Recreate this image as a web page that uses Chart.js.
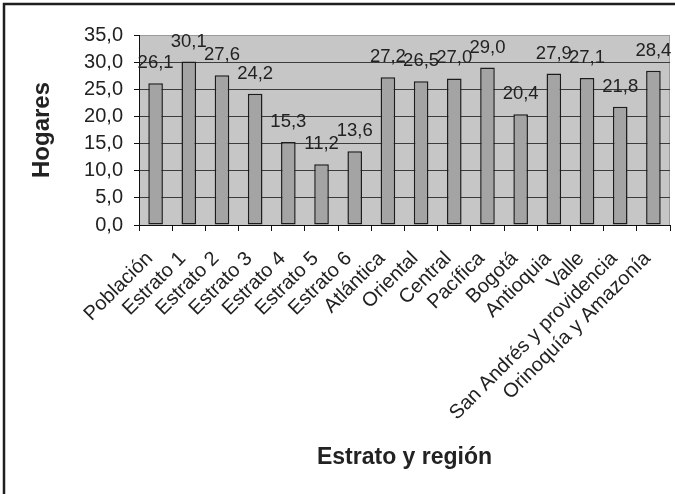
<!DOCTYPE html>
<html>
<head>
<meta charset="utf-8">
<script src="https://cdn.jsdelivr.net/npm/chart.js@4"></script>
<style>
  body { margin: 0; background: #fff; }
  #wrap { width: 675px; height: 494px; }
</style>
</head>
<body>
<div id="wrap"><canvas id="hogaresChart" width="675" height="494"></canvas></div>
<script>
// categorías (estrato y región)
const categorias = ['Población', 'Estrato 1', 'Estrato 2', 'Estrato 3', 'Estrato 4', 'Estrato 5', 'Estrato 6',
  'Atlántica', 'Oriental', 'Central', 'Pacífica', 'Bogotá', 'Antioquia', 'Valle',
  'San Andrés y providencia', 'Orinoquía y Amazonía'];

// porcentaje de hogares
const hogares = [26.1, 30.1, 27.6, 24.2, 15.3, 11.2, 13.6, 27.2, 26.5, 27.0, 29.0, 20.4, 27.9, 27.1, 21.8, 28.4];

// eje y
const yMin = 0;
const yMax = 35;
const yPaso = 5;

const coma = v => v.toFixed(1).replace('.', ',');
const fuente = '"Liberation Sans", Arial, sans-serif';

// fondo gris del área de trazado + marco exterior
const fondo = {
  id: 'fondo',
  beforeDraw(chart) {
    const { ctx, chartArea: a } = chart;
    ctx.save();
    ctx.fillStyle = '#c6c6c6';
    ctx.fillRect(a.left, a.top, a.right - a.left, a.bottom - a.top);
    ctx.strokeStyle = '#9a9a9a';
    ctx.lineWidth = 1;
    ctx.strokeRect(a.left + 0.5, a.top + 0.5, a.right - a.left - 1, a.bottom - a.top);
    ctx.restore();
  },
  afterDraw(chart) {
    const ctx = chart.ctx;
    ctx.save();
    ctx.strokeStyle = '#1e1e1e';
    ctx.lineWidth = 2.5;
    ctx.beginPath();
    ctx.moveTo(4, 494);
    ctx.lineTo(4, 4);
    ctx.lineTo(675, 4);
    ctx.stroke();
    ctx.restore();
  }
};

// etiquetas de valor sobre cada barra
const etiquetas = {
  id: 'etiquetas',
  afterDatasetsDraw(chart) {
    const ctx = chart.ctx;
    const meta = chart.getDatasetMeta(0);
    ctx.save();
    ctx.font = '18.5px ' + fuente;
    ctx.fillStyle = '#222';
    ctx.textAlign = 'center';
    ctx.textBaseline = 'alphabetic';
    meta.data.forEach((bar, i) => {
      ctx.fillText(coma(hogares[i]), bar.x, bar.y - 15);
    });
    ctx.restore();
  }
};

new Chart(document.getElementById('hogaresChart'), {
  type: 'bar',
  data: {
    labels: categorias,
    datasets: [{
      data: hogares,
      backgroundColor: '#a4a4a4',
      borderColor: '#1c1c1c',
      borderWidth: 1.5,
      borderSkipped: false,
      categoryPercentage: 1,
      barPercentage: 0.44
    }]
  },
  options: {
    responsive: false,
    animation: false,
    layout: { padding: { top: 35, right: 5, left: 0, bottom: 0 } },
    plugins: {
      legend: { display: false },
      tooltip: { enabled: false }
    },
    scales: {
      x: {
        afterFit(scale) {
          scale.height = 269;
          scale.paddingLeft = 0;
          scale.paddingRight = 0;
        },
        grid: { drawOnChartArea: false, drawTicks: true, tickLength: 6, color: '#111', offset: true },
        border: { display: true, color: '#111', width: 1 },
        ticks: {
          autoSkip: false,
          maxRotation: 45,
          minRotation: 45,
          padding: 16,
          labelOffset: -6,
          color: '#222',
          font: { family: fuente, size: 20 }
        },
        title: {
          display: true,
          text: 'Estrato y región',
          color: '#222',
          padding: { top: 4, bottom: 23 },
          font: { family: fuente, size: 23, weight: 'bold' }
        }
      },
      y: {
        min: yMin,
        max: yMax,
        afterFit(scale) {
          scale.width = 139;
          scale.paddingTop = 0;
          scale.paddingBottom = 0;
        },
        grid: {
          color: ctx => (ctx.tick && ctx.tick.value === yMax ? 'rgba(0,0,0,0)' : '#3c3c3c'),
          lineWidth: 1,
          tickLength: 5,
          tickColor: '#111'
        },
        border: { display: true, color: '#111', width: 1 },
        ticks: {
          stepSize: yPaso,
          padding: 11,
          color: '#222',
          callback: v => coma(v),
          font: { family: fuente, size: 20 }
        },
        title: {
          display: true,
          text: 'Hogares',
          color: '#222',
          padding: { top: 28, bottom: 0 },
          font: { family: fuente, size: 24, weight: 'bold' }
        }
      }
    }
  },
  plugins: [fondo, etiquetas]
});
</script>
</body>
</html>
